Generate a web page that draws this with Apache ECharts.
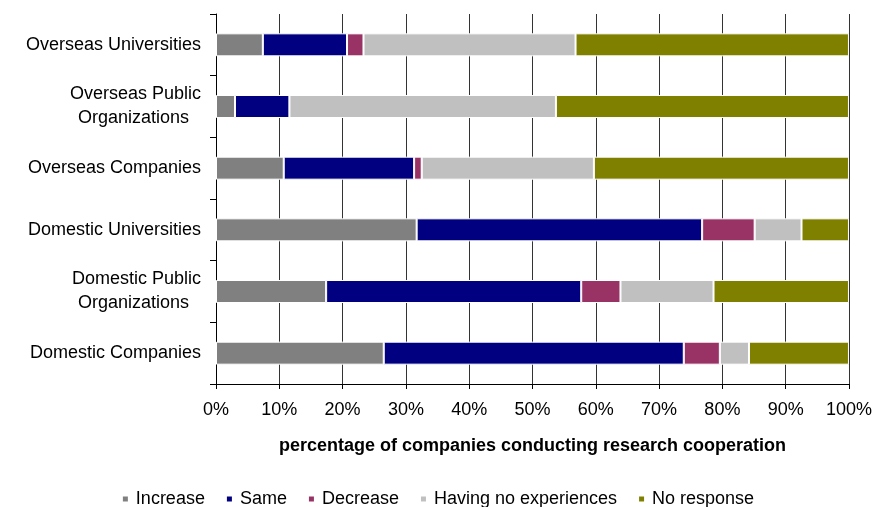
<!DOCTYPE html>
<html lang="en">
<head>
    <meta charset="utf-8">
    <title>Research cooperation</title>
    <script src="https://cdn.jsdelivr.net/npm/echarts@6/dist/echarts.min.js"></script>
    <style>
        html, body { margin: 0; padding: 0; background: #fff; }
        #chart { width: 875px; height: 507px; }
    </style>
</head>
<body>
<div id="chart"></div>
<script type="text/javascript">
    // categories, top to bottom
    var categories = ['Overseas Universities', 'Overseas Public\nOrganizations', 'Overseas Companies',
        'Domestic Universities', 'Domestic Public\nOrganizations', 'Domestic Companies'];
    var xTicks = [0, 10, 20, 30, 40, 50, 60, 70, 80, 90, 100];

    // percentages
    var increase   = [7.4, 3.0, 10.7, 31.7, 17.4, 26.5];
    var same       = [13.3, 8.6, 20.6, 45.1, 40.3, 47.4];
    var decrease   = [2.6, 0, 1.2, 8.3, 6.2, 5.7];
    var noExp      = [33.5, 42.1, 27.2, 7.4, 14.7, 4.6];
    var noResponse = [43.2, 46.3, 40.3, 7.5, 21.4, 15.8];

    var font = '"Liberation Sans", Arial, sans-serif';
    var chart = echarts.init(document.getElementById('chart'));

    function bar(name, data, color) {
        return {
            name: name,
            type: 'bar',
            stack: 'all',
            data: data,
            barWidth: 23,
            itemStyle: { color: color, borderColor: '#fff', borderWidth: 1 },
            emphasis: { disabled: true }
        };
    }

    chart.setOption({
        animation: false,
        textStyle: { fontFamily: font },
        grid: { left: 216, right: 26, top: 14, bottom: 123, containLabel: false },
        legend: {
            bottom: -6,
            left: 'center',
            icon: 'rect',
            itemWidth: 7,
            itemHeight: 7,
            itemGap: 20,
            textStyle: { fontSize: 18, color: '#000', fontFamily: font, padding: [0, 0, 0, 2] },
            data: ['Increase', 'Same', 'Decrease', 'Having no experiences', 'No response']
        },
        xAxis: {
            type: 'value',
            min: xTicks[0],
            max: xTicks[xTicks.length - 1],
            interval: xTicks[1] - xTicks[0],
            name: 'percentage of companies conducting research cooperation',
            nameLocation: 'middle',
            nameGap: 53,
            nameTextStyle: { fontSize: 18, fontWeight: 'bold', color: '#000', fontFamily: font },
            axisLine: { show: true, lineStyle: { color: '#000', width: 1 } },
            axisTick: { show: true, length: 5, lineStyle: { color: '#000' } },
            axisLabel: { formatter: '{value}%', fontSize: 18, color: '#000', margin: 17 },
            splitLine: { show: true, lineStyle: { color: '#333', width: 1 } }
        },
        yAxis: {
            type: 'category',
            inverse: true,
            data: categories,
            axisLine: { show: true, lineStyle: { color: '#000', width: 1 } },
            axisTick: { show: true, length: 6, lineStyle: { color: '#000' } },
            axisLabel: {
                fontSize: 18,
                color: '#000',
                margin: 15,
                lineHeight: 24,
                formatter: function (v) {
                    var parts = v.split('\n');
                    if (parts.length === 1) return v;
                    return parts[0] + '\n{b|' + parts[1] + '}';
                },
                rich: {
                    b: { fontSize: 18, color: '#000', padding: [0, 12, 0, 0], lineHeight: 24 }
                }
            }
        },
        series: [
            bar('Increase', increase, '#808080'),
            bar('Same', same, '#000080'),
            bar('Decrease', decrease, '#993366'),
            bar('Having no experiences', noExp, '#C0C0C0'),
            bar('No response', noResponse, '#808000')
        ]
    });
</script>
</body>
</html>
